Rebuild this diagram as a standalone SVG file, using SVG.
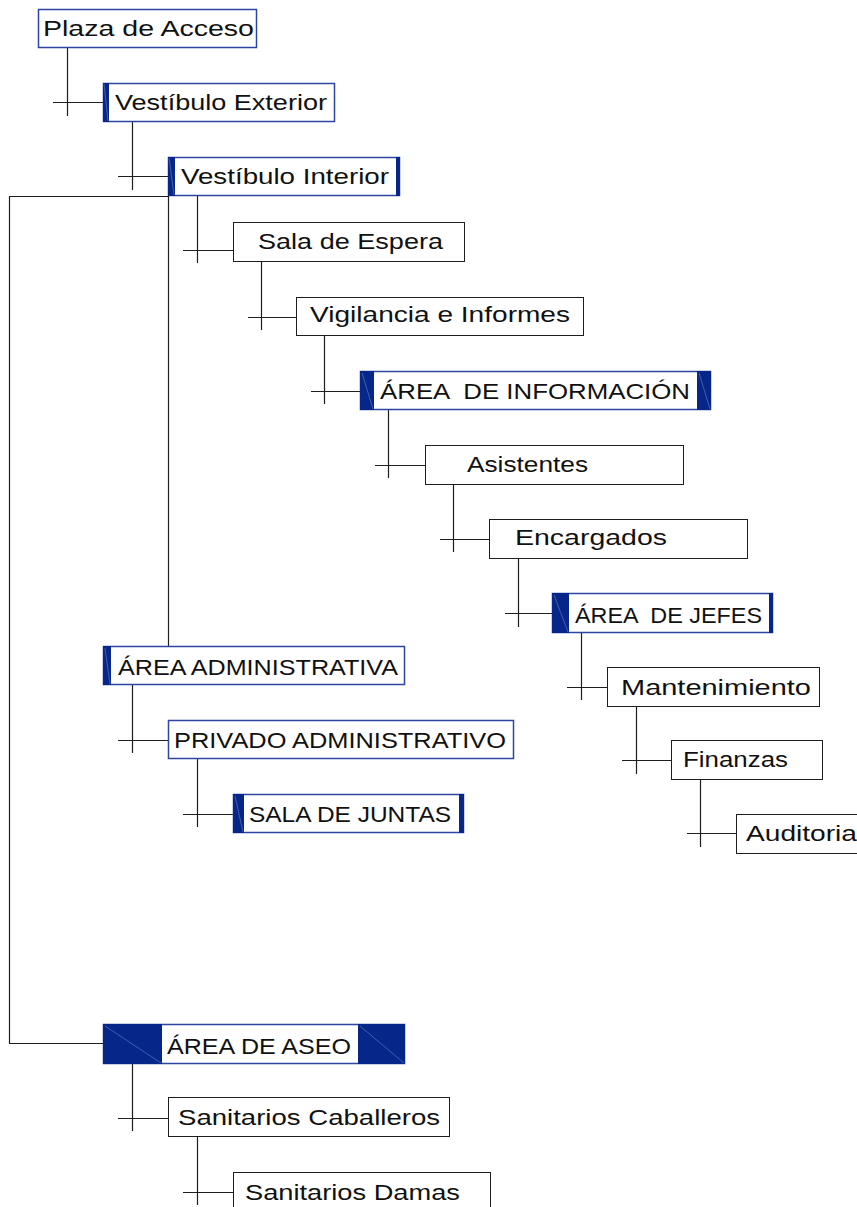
<svg xmlns="http://www.w3.org/2000/svg" width="857" height="1207" viewBox="0 0 857 1207">
  <defs>
    <style>
      .plain { fill: #ffffff; stroke: #1e1e1e; stroke-width: 1; }
      .blue { fill: #ffffff; stroke: #2b45a0; stroke-width: 1.5; }
      .bar { fill: #06268a; }
      .diag { stroke: #6f82c4; stroke-width: 0.6; fill: none; }
      .conn { stroke: #1e1e1e; stroke-width: 1.2; fill: none; }
      .label { font-family: "Liberation Sans", Arial, sans-serif; font-size: 22px; fill: #111111; }
    </style>
  </defs>
  <rect width="857" height="1207" fill="#ffffff"/>

  <!-- connectors -->
  <g id="connectors">
    <!-- Plaza -> Vestíbulo Exterior -->
    <path class="conn" d="M67.5 43 V116 M53 102.5 H104"/>
    <!-- Vestíbulo Exterior -> Vestíbulo Interior -->
    <path class="conn" d="M132.5 117 V190 M118 176.5 H168"/>
    <!-- Vestíbulo Interior -> Sala de Espera -->
    <path class="conn" d="M197.5 191 V263 M183 250.5 H233"/>
    <!-- Vestíbulo Interior -> Área Administrativa -->
    <path class="conn" d="M168.5 196 V646"/>
    <!-- Vestíbulo Interior -> Área de Aseo (outer loop) -->
    <path class="conn" d="M168 196.5 H9.5 V1043.5 H103"/>
    <!-- Sala de Espera -> Vigilancia -->
    <path class="conn" d="M261.5 258 V330 M248 317.5 H296"/>
    <!-- Vigilancia -> Área de Información -->
    <path class="conn" d="M324.5 332 V404 M311 391.5 H361"/>
    <!-- Área de Información -> Asistentes -->
    <path class="conn" d="M388.5 407 V478 M375 465.5 H425"/>
    <!-- Asistentes -> Encargados -->
    <path class="conn" d="M453.5 480 V552 M440 539.5 H489"/>
    <!-- Encargados -> Área de Jefes -->
    <path class="conn" d="M518.5 555 V627 M505 613.5 H553"/>
    <!-- Área de Jefes -> Mantenimiento -->
    <path class="conn" d="M581.5 629 V700 M567 687.5 H607"/>
    <!-- Mantenimiento -> Finanzas -->
    <path class="conn" d="M636.5 703 V774 M622 760.5 H671"/>
    <!-- Finanzas -> Auditoria -->
    <path class="conn" d="M700.5 776 V847 M687 833.5 H736"/>
    <!-- Área Administrativa -> Privado -->
    <path class="conn" d="M132.5 680 V753 M118 740.5 H168"/>
    <!-- Privado -> Sala de Juntas -->
    <path class="conn" d="M197.5 754 V827 M183 814.5 H233"/>
    <!-- Área de Aseo -> Sanitarios Caballeros -->
    <path class="conn" d="M132.5 1058 V1131 M118 1118.5 H168"/>
    <!-- Sanitarios Caballeros -> Sanitarios Damas -->
    <path class="conn" d="M197.5 1133 V1205 M183 1192.5 H233"/>
  </g>

  <g id="plaza-acceso">
    <rect class="blue" x="38.5" y="9.5" width="218" height="38"/>
    <text class="label" x="43" y="36" textLength="211" lengthAdjust="spacingAndGlyphs">Plaza de Acceso</text>
  </g>

  <g id="vestibulo-exterior">
    <rect class="blue" x="103.5" y="83.5" width="231" height="38"/>
    <rect class="bar" x="103" y="83" width="6" height="39"/>
    <line class="diag" x1="104" y1="84" x2="108" y2="121"/>
    <text class="label" x="115" y="110" textLength="212" lengthAdjust="spacingAndGlyphs">Vestíbulo Exterior</text>
  </g>

  <g id="vestibulo-interior">
    <rect class="blue" x="168.5" y="157.5" width="231" height="38"/>
    <rect class="bar" x="168" y="157" width="7" height="39"/>
    <rect class="bar" x="396" y="157" width="4" height="39"/>
    <line class="diag" x1="169" y1="158" x2="174" y2="195"/>
    <text class="label" x="181" y="184" textLength="208" lengthAdjust="spacingAndGlyphs">Vestíbulo Interior</text>
  </g>

  <g id="sala-espera">
    <rect class="plain" x="233.5" y="222.5" width="231" height="39"/>
    <text class="label" x="258" y="249" textLength="185" lengthAdjust="spacingAndGlyphs">Sala de Espera</text>
  </g>

  <g id="vigilancia-informes">
    <rect class="plain" x="296.5" y="297.5" width="287" height="38"/>
    <text class="label" x="310" y="322" textLength="260" lengthAdjust="spacingAndGlyphs">Vigilancia e Informes</text>
  </g>

  <g id="area-informacion">
    <rect class="blue" x="360.5" y="371.5" width="350" height="38"/>
    <rect class="bar" x="360" y="371" width="14" height="39"/>
    <rect class="bar" x="697" y="371" width="14" height="39"/>
    <line class="diag" x1="362" y1="373" x2="373" y2="409"/>
    <line class="diag" x1="699" y1="373" x2="710" y2="409"/>
    <text class="label" x="380" y="399" textLength="310" lengthAdjust="spacingAndGlyphs" xml:space="preserve">ÁREA  DE INFORMACIÓN</text>
  </g>

  <g id="asistentes">
    <rect class="plain" x="425.5" y="445.5" width="258" height="39"/>
    <text class="label" x="467" y="472" textLength="121" lengthAdjust="spacingAndGlyphs">Asistentes</text>
  </g>

  <g id="encargados">
    <rect class="plain" x="489.5" y="519.5" width="258" height="39"/>
    <text class="label" x="515" y="545" textLength="152" lengthAdjust="spacingAndGlyphs">Encargados</text>
  </g>

  <g id="area-jefes">
    <rect class="blue" x="552.5" y="593.5" width="220" height="39"/>
    <rect class="bar" x="552" y="593" width="17" height="40"/>
    <rect class="bar" x="769" y="593" width="4" height="40"/>
    <line class="diag" x1="554" y1="595" x2="568" y2="632"/>
    <text class="label" x="575" y="623" textLength="187" lengthAdjust="spacingAndGlyphs" xml:space="preserve">ÁREA  DE JEFES</text>
  </g>

  <g id="mantenimiento">
    <rect class="plain" x="607.5" y="667.5" width="212" height="39"/>
    <text class="label" x="621" y="695" textLength="190" lengthAdjust="spacingAndGlyphs">Mantenimiento</text>
  </g>

  <g id="finanzas">
    <rect class="plain" x="671.5" y="740.5" width="151" height="39"/>
    <text class="label" x="683" y="767" textLength="105" lengthAdjust="spacingAndGlyphs">Finanzas</text>
  </g>

  <g id="auditoria">
    <rect class="plain" x="736.5" y="814.5" width="130" height="39"/>
    <text class="label" x="746" y="841" textLength="111" lengthAdjust="spacingAndGlyphs">Auditoria</text>
  </g>

  <g id="area-administrativa">
    <rect class="blue" x="103.5" y="646.5" width="301" height="38"/>
    <rect class="bar" x="103" y="646" width="8" height="39"/>
    <line class="diag" x1="105" y1="648" x2="110" y2="684"/>
    <text class="label" x="118" y="675" textLength="280" lengthAdjust="spacingAndGlyphs">ÁREA ADMINISTRATIVA</text>
  </g>

  <g id="privado-administrativo">
    <rect class="blue" x="168.5" y="720.5" width="345" height="38"/>
    <text class="label" x="174" y="748" textLength="332" lengthAdjust="spacingAndGlyphs">PRIVADO ADMINISTRATIVO</text>
  </g>

  <g id="sala-juntas">
    <rect class="blue" x="233.5" y="794.5" width="230" height="38"/>
    <rect class="bar" x="233" y="794" width="11" height="39"/>
    <rect class="bar" x="459" y="794" width="5" height="39"/>
    <line class="diag" x1="235" y1="796" x2="243" y2="832"/>
    <text class="label" x="249" y="822" textLength="202" lengthAdjust="spacingAndGlyphs">SALA DE JUNTAS</text>
  </g>

  <g id="area-aseo">
    <rect class="blue" x="103.5" y="1024.5" width="301" height="39"/>
    <rect class="bar" x="103" y="1024" width="59" height="40"/>
    <rect class="bar" x="358" y="1024" width="47" height="40"/>
    <line class="diag" x1="105" y1="1026" x2="161" y2="1063"/>
    <line class="diag" x1="360" y1="1026" x2="404" y2="1063"/>
    <text class="label" x="167" y="1054" textLength="184" lengthAdjust="spacingAndGlyphs">ÁREA DE ASEO</text>
  </g>

  <g id="sanitarios-caballeros">
    <rect class="plain" x="168.5" y="1097.5" width="281" height="39"/>
    <text class="label" x="178" y="1125" textLength="262" lengthAdjust="spacingAndGlyphs">Sanitarios Caballeros</text>
  </g>

  <g id="sanitarios-damas">
    <rect class="plain" x="233.5" y="1172.5" width="257" height="40"/>
    <text class="label" x="245" y="1200" textLength="215" lengthAdjust="spacingAndGlyphs">Sanitarios Damas</text>
  </g>
</svg>
